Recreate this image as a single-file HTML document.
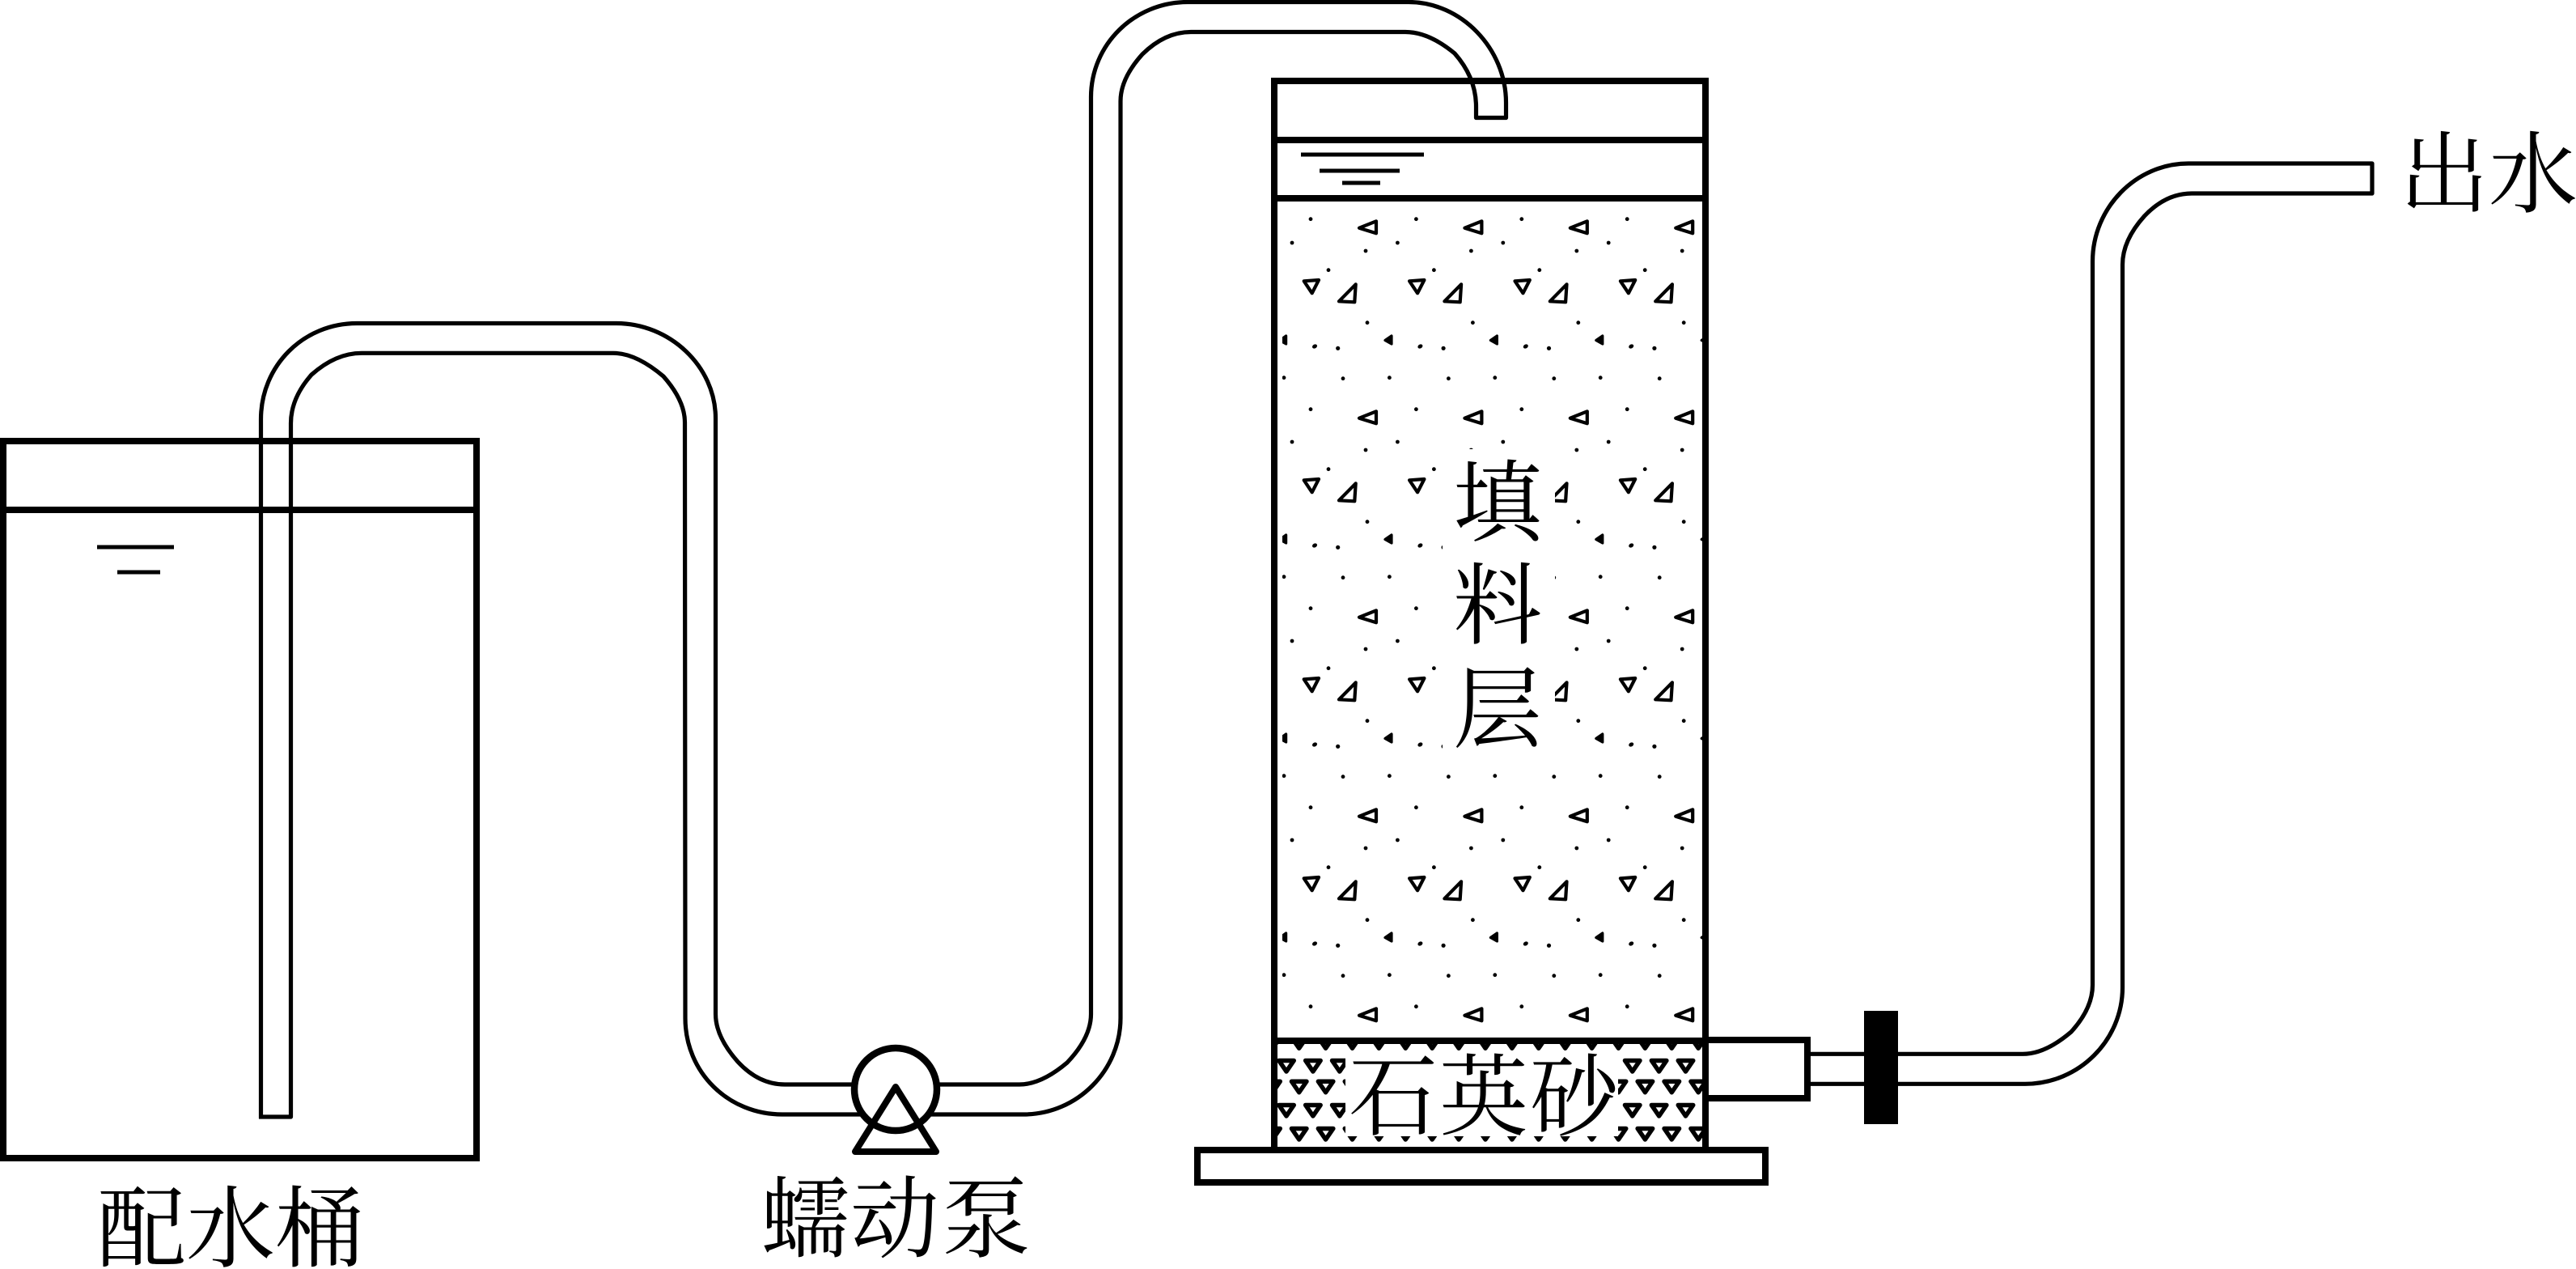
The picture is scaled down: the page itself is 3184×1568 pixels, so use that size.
<!DOCTYPE html>
<html lang="zh">
<head>
<meta charset="utf-8">
<title>实验装置示意图</title>
<style>
html,body{margin:0;padding:0;background:#fff;width:3184px;height:1568px;overflow:hidden}
svg{display:block}
text{font-family:"Liberation Serif","Noto Serif CJK SC",serif;font-size:110px;fill:#000}
</style>
</head>
<body>
<svg width="3184" height="1568" viewBox="0 0 3184 1568" xmlns="http://www.w3.org/2000/svg">
<defs>
<clipPath id="fc"><rect x="1585" y="249" width="519" height="1033"/></clipPath>
<clipPath id="qc"><rect x="1579" y="1290" width="525" height="127"/></clipPath>
<g id="a">
  <circle cx="1620" cy="505.7" r="2.4"/>
  <path d="M1680,516.7 L1701,508.3 L1701,523.3 Z" fill="none" stroke="#000" stroke-width="4.2" stroke-linejoin="round"/>
</g>
<g id="b">
  <circle cx="1597" cy="546" r="2.4"/>
  <circle cx="1688" cy="556" r="2.4"/>
  <circle cx="1642" cy="579.7" r="2.4"/>
  <circle cx="1690" cy="644.7" r="2.4"/>
  <ellipse cx="1625" cy="674" rx="3.2" ry="2.4" transform="rotate(-30 1625 674)"/>
  <circle cx="1653.7" cy="676.3" r="2.6"/>
  <circle cx="1587" cy="712.7" r="2.4"/>
  <circle cx="1660" cy="713.7" r="2.4"/>
  <path d="M1611.7,593.3 L1630,592 L1621.7,608.3 Z" fill="none" stroke="#000" stroke-width="4.2" stroke-linejoin="round"/>
  <path d="M1655,618.3 L1675.7,597.3 L1674.3,619.3 Z" fill="none" stroke="#000" stroke-width="4.2" stroke-linejoin="round"/>
  <path d="M1712,666.5 L1720,661 L1720,671 Z" fill="#000" stroke="#000" stroke-width="3.2" stroke-linejoin="round"/>
</g>
<g id="ra">
  <use href="#a" x="-130.4"/><use href="#a"/><use href="#a" x="130.4"/><use href="#a" x="260.8"/><use href="#a" x="391.2"/>
</g>
<g id="rb">
  <use href="#b" x="-130.4"/><use href="#b"/><use href="#b" x="130.4"/><use href="#b" x="260.8"/><use href="#b" x="391.2"/>
</g>
<path id="q" d="M-9.25,2.75 L9.25,2.75 L0,16.25 Z" fill="none" stroke="#000" stroke-width="5.5" stroke-linejoin="round"/>
<g id="q1">
  <use href="#q" x="1590"/><use href="#q" x="1622.9"/><use href="#q" x="1655.8"/><use href="#q" x="1688.7"/><use href="#q" x="1721.6"/><use href="#q" x="1754.5"/><use href="#q" x="1787.4"/><use href="#q" x="1820.3"/><use href="#q" x="1853.2"/><use href="#q" x="1886.1"/><use href="#q" x="1919"/><use href="#q" x="1951.9"/><use href="#q" x="1984.8"/><use href="#q" x="2017.7"/><use href="#q" x="2050.6"/><use href="#q" x="2083.5"/>
</g>
<g id="q2">
  <use href="#q" x="1573"/><use href="#q" x="1605.7"/><use href="#q" x="1638.6"/><use href="#q" x="1671.5"/><use href="#q" x="1704.4"/><use href="#q" x="1737.3"/><use href="#q" x="1770.2"/><use href="#q" x="1803.1"/><use href="#q" x="1836"/><use href="#q" x="1868.9"/><use href="#q" x="1901.8"/><use href="#q" x="1934.7"/><use href="#q" x="1967.6"/><use href="#q" x="2000.5"/><use href="#q" x="2033.4"/><use href="#q" x="2066.3"/><use href="#q" x="2099.2"/>
</g>
</defs>

<rect width="3184" height="1568" fill="#fff"/>

<!-- filler pattern -->
<g clip-path="url(#fc)">
  <use href="#ra" y="-235"/><use href="#ra"/><use href="#ra" y="246"/><use href="#ra" y="492"/><use href="#ra" y="738"/>
  <use href="#rb" y="-246"/><use href="#rb"/><use href="#rb" y="246"/><use href="#rb" y="492"/>
</g>
<rect x="1783" y="555" width="139" height="380" fill="#fff"/>

<!-- quartz pattern -->
<g clip-path="url(#qc)">
  <use href="#q2" y="1279"/><use href="#q1" y="1307.7"/><use href="#q2" y="1333.5"/><use href="#q1" y="1362.7"/><use href="#q2" y="1391.7"/>
</g>
<rect x="1663" y="1298" width="337" height="106" fill="#fff"/>

<g fill="none" stroke="#000">
  <!-- tank -->
  <rect x="4" y="545" width="585" height="886" stroke-width="8"/>
  <path d="M0,630H593" stroke-width="8"/>
  <path d="M120,676H215M145,707H198" stroke-width="5"/>

  <!-- column -->
  <rect x="1575" y="100" width="533" height="1321" stroke-width="8"/>
  <path d="M1575,173H2108M1575,245H2108M1575,1286H2108" stroke-width="8"/>
  <path d="M1608,191H1760M1631,211H1730M1659,226H1706" stroke-width="5"/>
  <rect x="1480" y="1421" width="702" height="40" stroke-width="8" fill="#fff"/>

  <!-- connector -->
  <path d="M2108,1285H2234V1357H2108" stroke-width="8"/>

  <g stroke-width="5.2" stroke-linejoin="round" stroke-linecap="butt">
    <!-- tube tank to pump -->
    <path d="M322.5,1382 L322.5,518 C322.5,452 375,399.5 441,399.5 L762,399.5 C827,399.5 884.5,452 884.5,517 L884.5,1253 Q884.5,1281 912,1312 Q938,1340 970,1340 L1055,1340"/>
    <path d="M320,1380 L359.5,1380 L359.5,523 Q359.5,492 385,463 Q415,436.3 447,436.3 L758,436.3 Q786,436.3 820,465 Q846.5,495 846.5,522 L847,1258 C847,1325 900,1377 967,1377 L1068,1377"/>
    <!-- tube pump to column -->
    <path d="M1159,1340 L1260,1340 Q1287,1340 1319,1313 Q1348.5,1282 1348.5,1253 L1348.5,120 C1348.5,55 1402,2.5 1468,2.5 L1741,2.5 C1806,2.5 1861.5,60 1861.5,127 L1861.5,145.5 L1824.5,145.5 L1824.5,132 Q1824.5,96 1798,66 Q1766,39.5 1737,39.5 L1472,39.5 Q1440,39.5 1412,67 Q1385,97 1385,125 L1385,1258 C1385,1322 1332,1377 1265,1377 L1146,1377"/>
    <!-- outlet tube -->
    <path d="M2238,1302.3 L2500,1302.3 Q2528,1302.3 2560,1275 Q2586.5,1246 2586.5,1217 L2586.5,323 C2586.5,257 2640,202 2705,202 L2932,202 L2932,239 L2709,239 Q2677,239 2650.5,267 Q2623.5,297 2623.5,327 L2623.5,1220 C2623.5,1285 2570,1339.3 2503,1339.3 L2238,1339.3"/>
  </g>

  <!-- pump -->
  <circle cx="1107" cy="1346" r="51" stroke-width="8.5"/>
  <path d="M1107,1343 L1157,1423 L1057,1423 Z" stroke-width="8" stroke-linejoin="round"/>
</g>

<!-- valve -->
<rect x="2304" y="1249" width="42" height="140" fill="#000"/>

<!-- labels -->
<text x="120 230 340" y="1557">配水桶</text>
<text x="940 1051 1164" y="1545">蠕动泵</text>
<text x="1667 1779 1891" y="1394">石英砂</text>
<text x="1796" y="660">填</text>
<text x="1796" y="787">料</text>
<text x="1796" y="915">层</text>
<text x="2966 3076" y="254">出水</text>
</svg>
</body>
</html>
